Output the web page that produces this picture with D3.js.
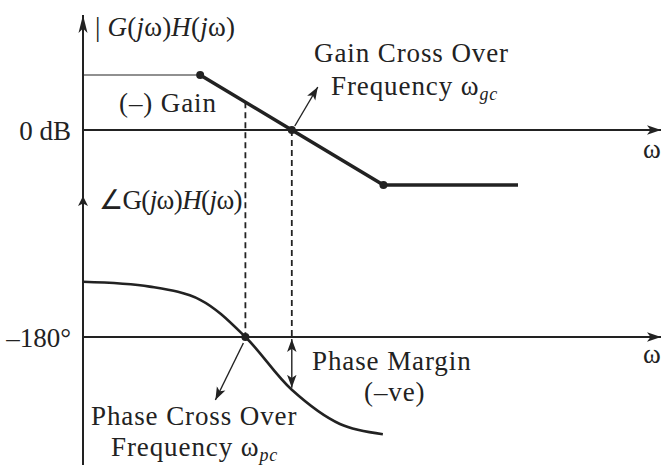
<!DOCTYPE html>
<html>
<head>
<meta charset="utf-8">
<script src="https://cdn.jsdelivr.net/npm/d3@7"></script>
<style>
  body { margin: 0; background: #fff; }
  svg text { font-family: "Liberation Serif", "Times New Roman", serif; fill: #222; font-size: 27px; letter-spacing: 0.9px; }
</style>
</head>
<body>
<svg width="663" height="465"></svg>
<script>
// sketch units along the frequency axis (not to scale)
const gainOmega = [0, 2.02, 3.6, 5.18, 7.5];
const gainDb    = [20, 20, 0, -20, -20];
const phaseOmega = [0, 1.15, 2.02, 2.8, 3.6, 4.43, 5.17];
const phaseDeg   = [-88, -96, -118, -180, -268, -325, -342];
const wpc = 2.8;   // phase cross over
const wgc = 3.6;   // gain cross over
const gainTicks = [0];
const gainTickLabels = ["0 dB"];
const phaseTicks = [-180];
const phaseTickLabels = ["–180°"];

const svg = d3.select("svg");
const ink = "#222";

const x = d3.scaleLinear([0, 10], [83, 663]);
const yGain = d3.scaleLinear([-20, 20], [185, 75]);
const yPhase = d3.scaleLinear([-90, -270], [283, 391]);

const gain = gainOmega.map((w, i) => ({w, v: gainDb[i]}));
const phase = phaseOmega.map((w, i) => ({w, v: phaseDeg[i]}));

// arrow markers
const defs = svg.append("defs");
function marker(id, len, half) {
  defs.append("marker")
      .attr("id", id)
      .attr("markerUnits", "userSpaceOnUse")
      .attr("markerWidth", len + 2).attr("markerHeight", half * 2 + 2)
      .attr("viewBox", `0 0 ${len} ${half * 2}`)
      .attr("refX", len).attr("refY", half)
      .attr("orient", "auto-start-reverse")
    .append("path")
      .attr("d", `M0,0L${len},${half}L0,${half * 2}L${len * 0.25},${half}Z`)
      .attr("fill", ink);
}
marker("axisArrow", 12, 4);
marker("bigArrow", 16, 4);
marker("midArrow", 8, 4);
marker("thinArrow", 11, 4);

// frame
const x0 = x(0), xEnd = 661;
svg.append("line").attr("x1", x0).attr("x2", x0).attr("y1", 465).attr("y2", 196)
    .attr("stroke", ink).attr("stroke-width", 2).attr("marker-end", "url(#midArrow)");
svg.append("line").attr("x1", x0).attr("x2", x0).attr("y1", 196).attr("y2", 15)
    .attr("stroke", ink).attr("stroke-width", 2).attr("marker-end", "url(#bigArrow)");
[yGain(0), yPhase(-180)].forEach(yy => {
  svg.append("line").attr("x1", x0).attr("x2", xEnd).attr("y1", yy).attr("y2", yy)
      .attr("stroke", ink).attr("stroke-width", 2).attr("marker-end", "url(#axisArrow)");
});

// tick labels via axes
function leftAxis(scale, ticks, labels) {
  const g = svg.append("g").attr("transform", `translate(${x0},0)`)
      .call(d3.axisLeft(scale).tickValues(ticks)
        .tickFormat((d, i) => labels[i]).tickSize(0).tickPadding(12));
  g.select(".domain").remove();
  g.attr("font-family", null).attr("font-size", null);
  g.selectAll("text").attr("fill", ink).attr("dy", "0.36em").style("letter-spacing", "0px");
}
leftAxis(yGain, gainTicks, gainTickLabels);
leftAxis(yPhase, phaseTicks, phaseTickLabels);

// dashed projections
const gainAt = w => {
  const i = d3.bisectRight(gainOmega, w) - 1;
  const a = gain[i], b = gain[i + 1];
  return a.v + (b.v - a.v) * (w - a.w) / (b.w - a.w);
};
[[wpc, yGain(gainAt(wpc))], [wgc, yGain(0)]].forEach(([w, top]) => {
  svg.append("line").attr("x1", x(w)).attr("x2", x(w)).attr("y1", top).attr("y2", yPhase(-180))
      .attr("stroke", ink).attr("stroke-width", 1.8).attr("stroke-dasharray", "6,4");
});

// magnitude plot
const gLine = d3.line().x(d => x(d.w)).y(d => yGain(d.v));
svg.append("path").attr("d", gLine(gain.slice(0, 2)))
    .attr("fill", "none").attr("stroke", ink).attr("stroke-width", 1.2);
svg.append("path").attr("d", gLine(gain.slice(1)))
    .attr("fill", "none").attr("stroke", ink).attr("stroke-width", 3.5);
svg.selectAll(".gdot").data([gain[1], gain[2], gain[3]]).join("circle")
    .attr("cx", d => x(d.w)).attr("cy", d => yGain(d.v)).attr("r", 4).attr("fill", ink);

// phase plot
const pLine = d3.line().x(d => x(d.w)).y(d => yPhase(d.v)).curve(d3.curveCatmullRom.alpha(0.5));
svg.append("path").attr("d", pLine(phase))
    .attr("fill", "none").attr("stroke", ink).attr("stroke-width", 2.6);
svg.append("circle").attr("cx", x(wpc)).attr("cy", yPhase(-180)).attr("r", 4).attr("fill", ink);

// annotation arrows
function arrow(x1, y1, x2, y2, both) {
  const l = svg.append("line").attr("x1", x1).attr("y1", y1).attr("x2", x2).attr("y2", y2)
      .attr("stroke", ink).attr("stroke-width", 1.4).attr("marker-end", "url(#thinArrow)");
  if (both) l.attr("marker-start", "url(#thinArrow)");
}
arrow(x(wgc) + 3, yGain(0) - 4, x(wgc) + 26, yGain(0) - 43);
arrow(x(wpc) - 2, yPhase(-180) + 6, x(wpc) - 30, yPhase(-180) + 63);
arrow(x(wgc), yPhase(-180) + 2, x(wgc), yPhase(-268) - 2, true);

// text labels
function label(tx, ty, parts, spacing) {
  const t = svg.append("text").attr("x", tx).attr("y", ty);
  if (spacing != null) t.style("letter-spacing", spacing + "px");
  parts.forEach(p => {
    const s = t.append("tspan").text(p.t);
    if (p.i) s.attr("font-style", "italic");
    if (p.sub) s.attr("font-size", 18).attr("dy", 5).attr("font-style", "italic");
  });
}
label(95, 36, [{t: "| "}, {t: "G", i: 1}, {t: "("}, {t: "j", i: 1}, {t: "ω)"}, {t: "H", i: 1}, {t: "("}, {t: "j", i: 1}, {t: "ω)"}], 0.2);
label(99, 209, [{t: "∠G("}, {t: "j", i: 1}, {t: "ω)"}, {t: "H", i: 1}, {t: "("}, {t: "j", i: 1}, {t: "ω)"}], -0.6);
label(314, 62, [{t: "Gain Cross Over"}]);
label(331, 95, [{t: "Frequency ω"}, {t: "gc", sub: 1}]);
label(119, 112, [{t: "(–) Gain"}]);
label(643, 158, [{t: "ω"}]);
label(643, 363, [{t: "ω"}]);
label(312, 370, [{t: "Phase Margin"}]);
label(364, 401, [{t: "(–ve)"}]);
label(91, 425, [{t: "Phase Cross Over"}]);
label(111, 456, [{t: "Frequency ω"}, {t: "pc", sub: 1}]);
</script>
</body>
</html>
